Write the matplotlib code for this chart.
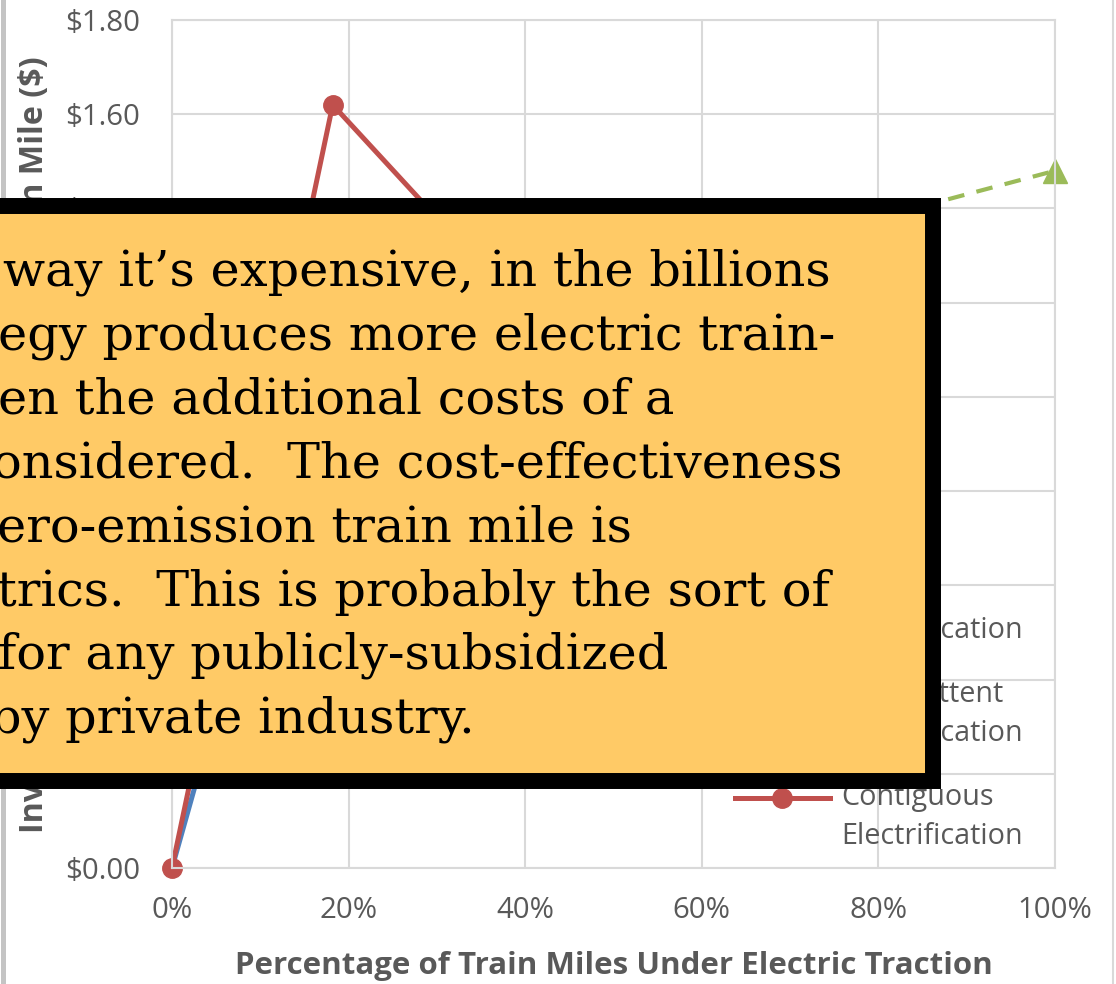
import numpy as np
import matplotlib
matplotlib.use("Agg")
import matplotlib.pyplot as plt
from matplotlib.lines import Line2D
from matplotlib.legend_handler import HandlerLine2D
from matplotlib.patches import Rectangle
from matplotlib.ticker import PercentFormatter, FuncFormatter

# series (share of train miles electrified, $ per zero-emission train mile)
partial_x = [0.0, 0.15, 0.40, 0.70]
partial_y = [0.0, 1.00, 1.10, 1.15]
intermittent_x = [0.25, 0.50, 0.80, 1.00]
intermittent_y = [0.90, 1.20, 1.38, 1.48]
contiguous_x = [0.0, 0.182, 0.30, 0.45, 0.65, 0.85]
contiguous_y = [0.0, 1.62, 1.38, 1.28, 1.22, 1.18]

labels = ["Partial\nElectrification", "Intermittent\nElectrification",
          "Contiguous\nElectrification"]

note_lines = [
    "way it\u2019s expensive, in the billions",
    "egy produces more electric train-",
    "en the additional costs of a",
    "onsidered.  The cost-effectiveness",
    "ero-emission train mile is",
    "trics.  This is probably the sort of",
    "for any publicly-subsidized",
    "by private industry.",
]

W, H = 1116, 984
GRAY = "#595959"
GRID = "#D9D9D9"
FONT = "Open Sans"

fig = plt.figure(figsize=(W / 100, H / 100), dpi=100)
ax = fig.add_axes([172 / W, 1 - 868 / H, 883 / W, 848 / H])

ax.plot(partial_x, partial_y, color="#4F81BD", lw=3.6, label=labels[0], clip_on=False)
ax.plot(intermittent_x, intermittent_y, color="#9BBB59", lw=3, ls=(0, (4, 3)),
        marker="^", markersize=17, label=labels[1], clip_on=False)
ax.plot(contiguous_x, contiguous_y, color="#C0504D", lw=3.6, marker="o",
        markersize=14, label=labels[2], clip_on=False)

ax.set_xlim(0, 1)
ax.set_ylim(0, 1.8)
ax.set_xticks(np.arange(0, 1.01, 0.2))
ax.set_yticks(np.arange(0, 1.81, 0.2))
ax.xaxis.set_major_formatter(PercentFormatter(xmax=1, decimals=0))
ax.yaxis.set_major_formatter(FuncFormatter(lambda v, p: f"${v:.2f}"))
ax.grid(True, color=GRID, lw=1.5)
ax.set_axisbelow(True)
for s in ax.spines.values():
    s.set_color(GRID)
    s.set_linewidth(1.5)
ax.tick_params(length=0, labelsize=21.2, labelcolor=GRAY)
ax.tick_params(axis="y", pad=23)
ax.tick_params(axis="x", pad=20)
for t in ax.get_xticklabels() + ax.get_yticklabels():
    t.set_fontfamily(FONT)

ax.set_xlabel("Percentage of Train Miles Under Electric Traction", fontsize=22.5,
              fontweight="bold", color=GRAY, family=FONT, va="center")
ax.xaxis.set_label_coords(0.5, (868 - 966) / 848)
ax.set_ylabel("Investment Cost per Zero-Emission Train Mile ($)", fontsize=23.2,
              fontweight="bold", color=GRAY, family=FONT, va="center")
ax.yaxis.set_label_coords((35 - 172) / 883, (868 - 445) / 848)


def lift_handle(h, orig):
    h.update_from(orig)
    h.set_ydata(np.asarray(h.get_ydata()) + 14)


leg = ax.legend(loc="lower left", bbox_to_anchor=((735 - 172) / 883, (868 - 851) / 848),
                frameon=False, borderpad=0, borderaxespad=0, handlelength=3.3,
                handletextpad=0.38, labelspacing=1.2, numpoints=1,
                prop={"family": FONT, "size": 20.7},
                handler_map={Line2D: HandlerLine2D(update_func=lift_handle)})
for t in leg.get_texts():
    t.set_color(GRAY)
    t.set_linespacing(1.47)

# outer chart border remnants
fig.add_artist(Line2D([2.5 / W, 2.5 / W], [0, 1], color="#C4C4C4", lw=3.6))
fig.add_artist(Line2D([1113 / W, 1113 / W], [0, 1], color=GRID, lw=1.5))

# callout box covering the chart
fig.add_artist(Rectangle((-30 / W, 1 - 781 / H), 963 / W, 575 / H, facecolor="#FFCA66",
                         edgecolor="black", lw=11.5, zorder=5))
x_off = [3, -2, -2, -8, -3, -3, -2, -10]
for i, line in enumerate(note_lines):
    fig.text(x_off[i] / W, 1 - (286 + 63.8 * i) / H, line, family="DejaVu Serif",
             fontsize=35.6, color="black", ha="left", va="baseline", zorder=6)

fig.savefig("out.png", dpi=100)
